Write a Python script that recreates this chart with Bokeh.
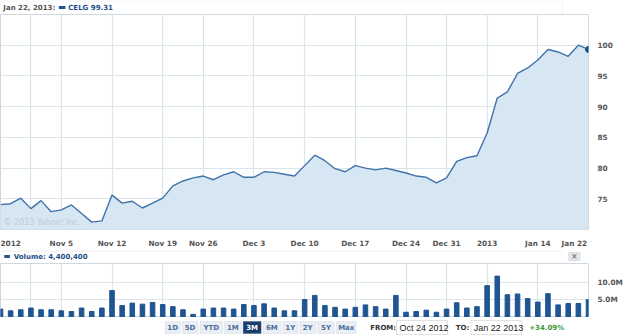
from bokeh.plotting import figure
from bokeh.models import FixedTicker, Label, BoxAnnotation, Range1d
from bokeh.layouts import column
from bokeh.embed import file_html
from bokeh.resources import INLINE

# ---- data (trading days Oct 24 2012 .. Jan 22 2013) ----
dates = ["Oct 24", "Oct 25", "Oct 26", "Oct 31", "Nov 1", "Nov 2",
         "Nov 5", "Nov 6", "Nov 7", "Nov 8", "Nov 9",
         "Nov 12", "Nov 13", "Nov 14", "Nov 15", "Nov 16",
         "Nov 19", "Nov 20", "Nov 21", "Nov 23",
         "Nov 26", "Nov 27", "Nov 28", "Nov 29", "Nov 30",
         "Dec 3", "Dec 4", "Dec 5", "Dec 6", "Dec 7",
         "Dec 10", "Dec 11", "Dec 12", "Dec 13", "Dec 14",
         "Dec 17", "Dec 18", "Dec 19", "Dec 20", "Dec 21",
         "Dec 24", "Dec 26", "Dec 27", "Dec 28", "Dec 31",
         "Jan 2", "Jan 3", "Jan 4",
         "Jan 7", "Jan 8", "Jan 9", "Jan 10", "Jan 11",
         "Jan 14", "Jan 15", "Jan 16", "Jan 17", "Jan 18", "Jan 22"]
price = [74.05, 74.2, 75.1, 73.4, 74.7, 72.9,
         73.2, 74.0, 72.6, 71.2, 71.4,
         75.6, 74.3, 74.6, 73.5, 74.3,
         75.1, 77.1, 77.9, 78.4,
         78.7, 78.1, 78.9, 79.4, 78.5,
         78.5, 79.4, 79.3, 79.0, 78.7,
         80.4, 82.1, 81.2, 79.9, 79.4,
         80.4, 80.0, 79.7, 80.0, 79.6,
         79.2, 78.7, 78.5, 77.6, 78.4,
         81.1, 81.7, 82.0,
         85.7, 91.4, 92.4, 95.4, 96.3,
         97.6, 99.3, 98.9, 98.2, 100.0, 99.31]
volume_m = [2.4, 1.9, 2.2, 2.7, 2.2, 2.2,
            1.9, 1.7, 2.7, 1.7, 2.7,
            7.7, 3.4, 4.1, 3.8, 4.3,
            3.7, 3.1, 2.2, 0.9,
            2.4, 2.7, 2.7, 2.4, 3.7,
            3.4, 3.9, 2.7, 1.9, 1.9,
            5.1, 6.3, 3.4, 2.9, 2.4,
            2.9, 3.6, 3.1, 2.4, 6.3,
            1.5, 1.7, 2.1, 1.5, 2.4,
            4.2, 2.7, 3.1,
            9.1, 11.8, 6.5, 6.7, 5.4,
            4.4, 6.8, 3.6, 4.0, 4.0, 5.1]
idx = list(range(len(dates)))
volume = [v * 1e6 for v in volume_m]

week_grid = [3, 6, 11, 16, 20, 25, 30, 35, 40, 44, 48, 53]
x_tick_pos = [1, 6, 11, 16, 20, 25, 30, 35, 40, 44, 48, 53, 56.6]
x_tick_labels = ["2012", "Nov 5", "Nov 12", "Nov 19", "Nov 26", "Dec 3", "Dec 10",
                 "Dec 17", "Dec 24", "Dec 31", "2013", "Jan 14", "Jan 22"]
price_ticks = [75, 80, 85, 90, 95, 100]
vol_ticks = [5e6, 10e6]
vol_tick_labels = ["5.0M", "10.0M"]

header_date = "Jan 22, 2013:"
header_quote = "CELG 99.31"
volume_title = "Volume: 4,400,400"
buttons = ["1D", "5D", "YTD", "1M", "3M", "6M", "1Y", "2Y", "5Y", "Max"]
from_text, to_text, change_text = "Oct 24 2012", "Jan 22 2013", "+34.09%"

FONT = "DejaVu Sans"
GRID = "#dbe3eb"
TXT = "#555555"
BLUE_TXT = "#1d4e89"
BAR = "#1f5590"
EDGE = "#d3dae2"


def panel(height):
    """A bare strip whose frame is the whole canvas, pixel coordinates, y downward."""
    f = figure(width=625, height=height, x_range=Range1d(0, 625), y_range=Range1d(height, 0),
               output_backend="svg", toolbar_location=None,
               x_axis_location=None, y_axis_location=None, min_border=0)
    f.grid.visible = False
    f.outline_line_color = None
    return f


def box(f, l, r, t, b, fill=None, line=None):
    f.add_layout(BoxAnnotation(left=l, right=r, top=t, bottom=b,
                               fill_color=fill, fill_alpha=1 if fill else 0,
                               line_color=line, line_width=1))


def text(f, x, y, s, color=TXT, bold=True, size="7px", font=FONT, align="left"):
    f.add_layout(Label(x=x, y=y, text=s, text_font=font,
                       text_font_style="bold" if bold else "normal",
                       text_font_size=size, text_color=color,
                       text_baseline="middle", text_align=align))


def style_axis(ax):
    ax.axis_line_color = None
    ax.major_tick_line_color = None
    ax.minor_tick_line_color = None
    ax.major_label_text_font = FONT
    ax.major_label_text_font_style = "bold"
    ax.major_label_text_font_size = "7.3px"
    ax.major_label_text_color = TXT
    ax.major_label_standoff = 3


# ---- header strip ----
hdr = panel(14)
box(hdr, 0.5, 597, 0.5, 14, line=EDGE)
text(hdr, 3, 7.5, header_date)
box(hdr, 62, 69, 5.5, 8.5, fill=BAR)
text(hdr, 72, 7.5, header_quote, color=BLUE_TXT)

# ---- main price chart ----
p1 = figure(width=625, height=236, x_range=(0, 58), y_range=(70, 105),
            output_backend="svg", toolbar_location=None, y_axis_location="right",
            min_border_left=0, min_border_right=28, min_border_top=0, min_border_bottom=14)
p1.outline_line_color = "#cfd8e1"
p1.varea(x=idx, y1=60, y2=price, fill_color="#d6e6f2")
p1.line(idx, price, color="#4072aa", line_width=1.4)
p1.scatter([idx[-1]], [price[-1]], size=6, color="#1b4f8a")
p1.xaxis.ticker = FixedTicker(ticks=x_tick_pos, minor_ticks=[])
p1.xaxis.major_label_overrides = dict(zip(x_tick_pos, x_tick_labels))
p1.xgrid.ticker = FixedTicker(ticks=week_grid, minor_ticks=[])
p1.yaxis.ticker = FixedTicker(ticks=price_ticks, minor_ticks=[])
style_axis(p1.xaxis[0])
style_axis(p1.yaxis[0])
for g in (p1.xgrid[0], p1.ygrid[0]):
    g.grid_line_color = GRID
    g.grid_line_width = 1.2
p1.add_layout(Label(x=3, y=7, x_units="screen", y_units="screen", text="\u00a9 2013 Yahoo! Inc.",
                    text_font=FONT, text_font_size="8px", text_color="#c3cad2",
                    text_baseline="middle"))

# ---- volume header strip ----
vh = panel(13)
box(vh, 0, 597, 0.5, 0.5, line=EDGE)
box(vh, 4, 10, 4.5, 7.5, fill=BAR)
text(vh, 14, 6.5, volume_title, color=BLUE_TXT)
box(vh, 604, 616, 2, 10, fill="#e4e7eb", line="#a9b0b9")
text(vh, 610, 6, "\u00d7", color="#555555", bold=False, size="8px", align="center")

# ---- volume chart ----
p2 = figure(width=625, height=54, x_range=(0, 58), y_range=(0, 15.4e6),
            output_backend="svg", toolbar_location=None, y_axis_location="right",
            x_axis_location=None,
            min_border_left=0, min_border_right=28, min_border_top=0, min_border_bottom=0)
p2.outline_line_color = "#cfd8e1"
p2.vbar(x=idx, top=volume, width=0.45, color=BAR)
p2.xgrid.ticker = FixedTicker(ticks=week_grid, minor_ticks=[])
p2.yaxis.ticker = FixedTicker(ticks=vol_ticks, minor_ticks=[])
p2.yaxis.major_label_overrides = dict(zip(vol_ticks, vol_tick_labels))
style_axis(p2.yaxis[0])
for g in (p2.xgrid[0], p2.ygrid[0]):
    g.grid_line_color = GRID
    g.grid_line_width = 1.2

# ---- range buttons strip ----
bt = panel(19)
btn_lr = [(175, 191), (193, 210), (212, 236), (238, 256), (258, 277),
          (279, 298), (300, 316), (318, 335), (337, 355), (357, 378)]
for (l, r), b in zip(btn_lr, buttons):
    active = b == "3M"
    box(bt, l, r, 4, 16, fill="#1b3f6b" if active else "#e9eef4",
        line="#1b3f6b" if active else "#c3ccd7")
    text(bt, (l + r) / 2, 10.5, b, color="white" if active else "#4a6d99", align="center")
text(bt, 393, 10.5, "FROM:", color="#333333")
box(bt, 421, 475, 3, 17, fill="white", line="#9a9a9a")
text(bt, 424, 10.5, from_text, color="#222222", bold=False, size="9px", font="Liberation Sans")
text(bt, 484, 10.5, "TO:", color="#333333")
box(bt, 500, 554, 3, 17, fill="white", line="#9a9a9a")
text(bt, 503, 10.5, to_text, color="#222222", bold=False, size="9px", font="Liberation Sans")
text(bt, 562, 10.5, change_text, color="#3a9a3a")

layout = column(hdr, p1, vh, p2, bt, spacing=0)
open("out.html", "w").write(file_html(layout, INLINE))
